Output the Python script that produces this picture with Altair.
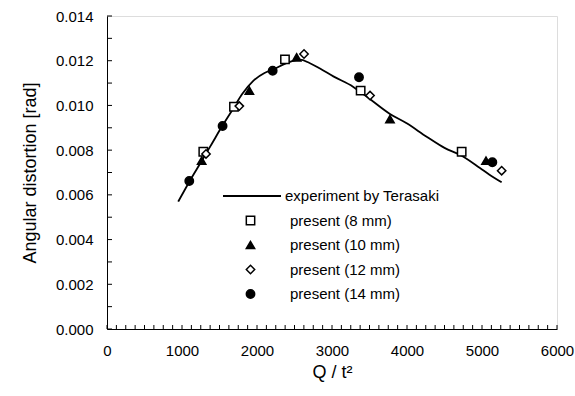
import altair as alt
import pandas as pd

# experiment line (Terasaki)
exp_x = [950, 1100, 1260, 1400, 1540, 1690, 1800, 1950, 2100, 2210, 2400, 2573, 2700, 2840, 3018, 3280, 3500, 3773, 3996, 4262, 4500, 4729, 4973, 5100, 5262]
exp_y = [0.0057, 0.0066, 0.0075, 0.0083, 0.0091, 0.0099, 0.0105, 0.0111, 0.01145, 0.0116, 0.0119, 0.01205, 0.0119, 0.01165, 0.0113, 0.01084, 0.0103, 0.00962, 0.0092, 0.0086, 0.0081, 0.00775, 0.0072, 0.0069, 0.00656]

sq_x = [1284, 1693, 2373, 3382, 4729]
sq_y = [0.00793, 0.00994, 0.01206, 0.01066, 0.00793]
tri_x = [1262, 1898, 2529, 3773, 5053]
tri_y = [0.00753, 0.01066, 0.01215, 0.00939, 0.00753]
dia_x = [1320, 1764, 2627, 3507, 5262]
dia_y = [0.00783, 0.00997, 0.0123, 0.01044, 0.00708]
cir_x = [1097, 1541, 2209, 3360, 5138]
cir_y = [0.00662, 0.00908, 0.01155, 0.01126, 0.00746]

series_names = ["present (8 mm)", "present (10 mm)", "present (12 mm)", "present (14 mm)"]
line_name = "experiment by Terasaki"

x_labels = [0, 1000, 2000, 3000, 4000, 5000, 6000]
y_labels = [0.000, 0.002, 0.004, 0.006, 0.008, 0.010, 0.012, 0.014]
y_minor = [i / 1000 for i in range(15)]
x_minor = [i * 125 for i in range(49)]

FONT = "Liberation Sans"

line_df = pd.DataFrame({"x": exp_x, "y": exp_y, "src": [line_name] * len(exp_x)})
rows = []
for name, xs, ys in zip(series_names, [sq_x, tri_x, dia_x, cir_x], [sq_y, tri_y, dia_y, cir_y]):
    for a, b in zip(xs, ys):
        rows.append({"x": a, "y": b, "series": name})
pts_df = pd.DataFrame(rows)

xscale = alt.Scale(domain=[0, 6000], nice=False, zero=False)
yscale = alt.Scale(domain=[0, 0.014], nice=False, zero=False)

xaxis = alt.Axis(values=x_labels, format="d", ticks=False, grid=False, labelFontSize=15,
                 labelPadding=14, title="Q / t²", titleFontSize=18, titleFontWeight="normal",
                 titlePadding=5, domainColor="black", labelColor="black", titleColor="black",
                 labelFont=FONT, titleFont=FONT, labelFlush=False)
yaxis = alt.Axis(values=y_labels, format=".3f", ticks=False, grid=False, labelFontSize=15,
                 labelPadding=14, title="Angular distortion [rad]", titleFontSize=18,
                 titleFontWeight="normal", titlePadding=16, domainColor="black",
                 labelColor="black", titleColor="black", labelFont=FONT, titleFont=FONT)

line = alt.Chart(line_df).mark_line(strokeWidth=1.8, interpolate="monotone").encode(
    x=alt.X("x:Q", scale=xscale, axis=xaxis),
    y=alt.Y("y:Q", scale=yscale, axis=yaxis),
    color=alt.Color("src:N", scale=alt.Scale(domain=[line_name], range=["black"]),
                    legend=alt.Legend(title=None, orient="none", legendX=115, legendY=150,
                                      symbolType="stroke", symbolSize=3364,
                                      symbolStrokeWidth=1.8, labelFontSize=15, labelFont=FONT,
                                      labelColor="black", labelOffset=3, padding=0)),
    order="x:Q",
)

pt_legend = alt.Legend(title=None, orient="none", legendX=136, legendY=197,
                       symbolSize=70, symbolStrokeColor="black", symbolStrokeWidth=1.5,
                       labelFontSize=15, labelFont=FONT, labelColor="black",
                       labelOffset=32, rowPadding=8.5, padding=0)

pts = alt.Chart(pts_df).mark_point(size=70, strokeWidth=1.5, opacity=1,
                                    fillOpacity=1).encode(
    x=alt.X("x:Q", scale=xscale),
    y=alt.Y("y:Q", scale=yscale),
    shape=alt.Shape("series:N", scale=alt.Scale(domain=series_names,
                    range=["square", "triangle-up", "diamond", "circle"]), legend=pt_legend),
    fill=alt.Fill("series:N", scale=alt.Scale(domain=series_names,
                  range=["white", "black", "white", "black"]), legend=pt_legend),
    stroke=alt.Stroke("series:N", scale=alt.Scale(domain=series_names,
                      range=["black", "black", "black", "black"]), legend=pt_legend),
)

ytick_df = pd.DataFrame({"v": y_minor})
xtick_df = pd.DataFrame({"v": x_minor})
yticks = alt.Chart(ytick_df).mark_rule(color="black", strokeWidth=1).encode(
    y=alt.Y("v:Q", scale=yscale), x=alt.value(0), x2=alt.value(5))
xticks = alt.Chart(xtick_df).mark_rule(color="black", strokeWidth=1).encode(
    x=alt.X("v:Q", scale=xscale), y=alt.value(313), y2=alt.value(309))

chart = alt.layer(yticks, xticks, line, pts).resolve_scale(
    color="independent", shape="independent", fill="independent", stroke="independent"
).properties(
    width=450, height=313,
    padding={"left": 107, "top": 16, "right": 18, "bottom": 67},
    autosize=alt.AutoSizeParams(type="none"),
).configure_view(stroke="black", strokeWidth=1.2).configure(background="white")

chart.save("out.html", embed_options={"renderer": "svg", "actions": False})
